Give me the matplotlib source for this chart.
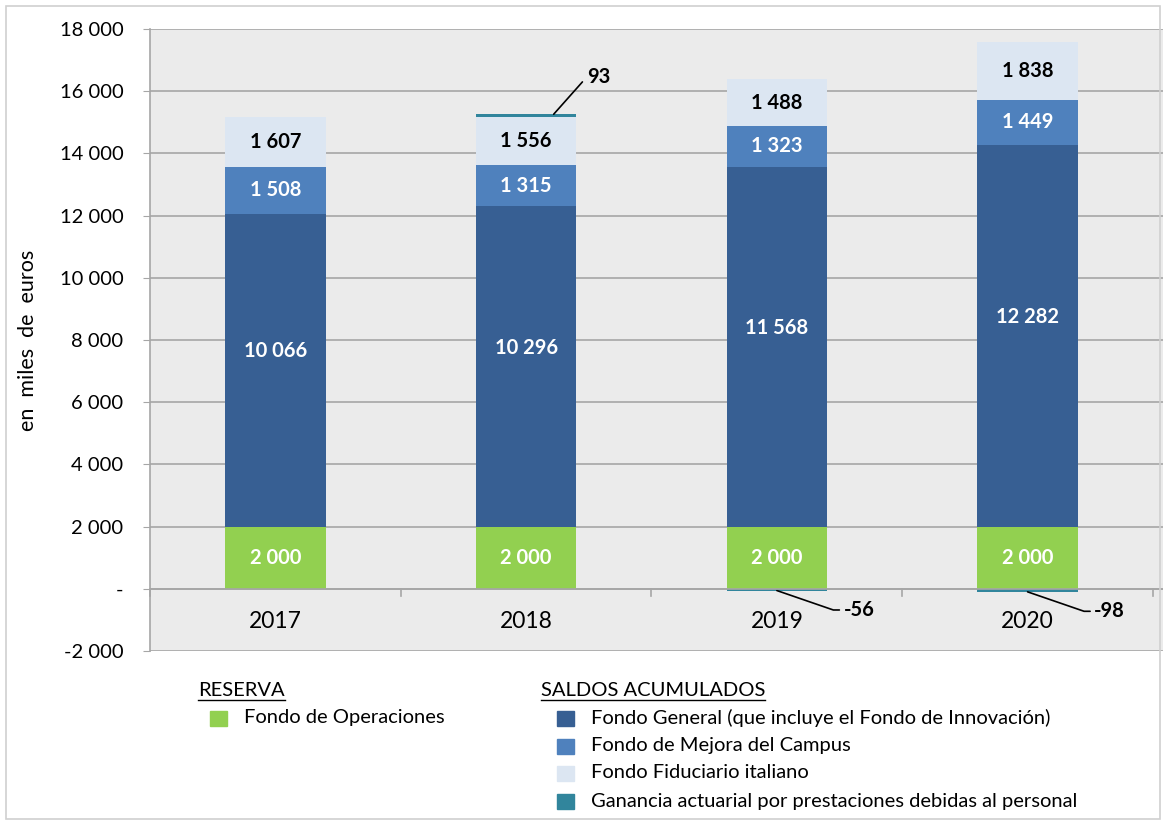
import matplotlib.pyplot as plt
import matplotlib.patches as mpatches
import numpy as np

plt.rcParams['font.family'] = ['Lato', 'DejaVu Sans']

years = ['2017', '2018', '2019', '2020']
operaciones = [2000, 2000, 2000, 2000]
general = [10066, 10296, 11568, 12282]
mejora = [1508, 1315, 1323, 1449]
fiduciario = [1607, 1556, 1488, 1838]
ganancia = [0, 93, -56, -98]

yticks = np.arange(-2000, 18001, 2000)

c_green = '#92D050'
c_dark = '#375F93'
c_mid = '#4F81BD'
c_light = '#DCE6F2'
c_teal = '#31859C'
grid_c = '#A6A6A6'

W, H = 1164, 823
fig = plt.figure(figsize=(W / 100, H / 100), dpi=100)
ax = fig.add_axes([150 / W, 1 - 651 / H, 1013 / W, 622 / H])
ax.set_facecolor('#EBEBEB')

x = np.arange(len(years))
bw = 0.4

def fmt(v):
    return f"{v:,}".replace(",", " ")

# (values, colour, label colour, label shift in data units)
series = [(operaciones, c_green, 'white', 0),
          (general, c_dark, 'white', 600),
          (mejora, c_mid, 'white', 0),
          (fiduciario, c_light, 'black', 0)]

bottom = np.zeros(len(years))
for vals, col, tcol, shift in series:
    vals = np.array(vals, dtype=float)
    ax.bar(x, vals, bw, bottom=bottom, color=col, zorder=3)
    for i, v in enumerate(vals):
        ax.text(x[i], bottom[i] + v / 2 + shift, fmt(int(v)), ha='center', va='center',
                color=tcol, fontsize=14.5, fontweight='bold', zorder=4)
    bottom += vals

# ganancia actuarial: positive on top of stack, negative below zero
gan = np.array(ganancia, dtype=float)
gbottom = np.where(gan >= 0, bottom, 0)
ax.bar(x, gan, bw, bottom=gbottom, color=c_teal, zorder=3)

for i, v in enumerate(ganancia):
    if v > 0:
        ax.annotate(fmt(v), xy=(x[i] + 0.11, gbottom[i] + v), xytext=(24, 27),
                    textcoords='offset points', ha='left', va='center',
                    fontsize=14.5, fontweight='bold',
                    arrowprops=dict(arrowstyle='-', color='black', lw=1.2,
                                    shrinkA=2, shrinkB=0, relpos=(0, 0.5)))
    elif v < 0:
        ax.annotate(fmt(v), xy=(x[i], v), xytext=(48, -14),
                    textcoords='offset points', ha='left', va='center',
                    fontsize=14.5, fontweight='bold',
                    arrowprops=dict(arrowstyle='-', color='black', lw=1.2,
                                    shrinkA=1, shrinkB=0, relpos=(0, 0.5),
                                    connectionstyle='angle,angleA=0,angleB=-19,rad=0'))

ax.set_xlim(-0.5, 3.54)
ax.set_ylim(-2000, 18000)
ax.set_yticks(yticks)
ax.set_yticklabels(['-' if t == 0 else fmt(int(t)) for t in yticks], fontsize=14.5)
ax.tick_params(axis='y', length=5, pad=14, color=grid_c)
ax.set_xticks([])
for t in yticks:
    ax.axhline(t, color=grid_c, lw=1.2, zorder=1)
ax.axhline(0, color=grid_c, lw=1.2, zorder=5)
for b in np.arange(-0.5, 4.0, 1.0):
    ax.plot([b, b], [0, -230], color=grid_c, lw=1.2, zorder=5, clip_on=False)
for i, yr in enumerate(years):
    ax.text(x[i], -1050, yr, ha='center', va='center', fontsize=16.5)

for s in ['top', 'right', 'bottom']:
    ax.spines[s].set_visible(False)
ax.spines['left'].set_color(grid_c)
ax.spines['left'].set_linewidth(1.2)

ax.set_ylabel('en  miles  de  euros', fontsize=15.5, labelpad=16)

# figure border
fig.patches.append(mpatches.Rectangle((6 / W, 4 / H), 1 - 10 / W, 1 - 10 / H,
                                      transform=fig.transFigure, fill=False,
                                      edgecolor='#D0D0D0', lw=1.2))

# legend
def fx(px):
    return px / W

def fy(py):
    return 1 - py / H

leg_fs = 14.5
titles = [('RESERVA', 198, 690), ('SALDOS ACUMULADOS', 541, 690)]
title_txt = []
for t, px, py in titles:
    title_txt.append(fig.text(fx(px), fy(py), t, ha='left', va='center', fontsize=leg_fs))

entries = [('Fondo de Operaciones', c_green, 210, 718),
           ('Fondo General (que incluye el Fondo de Innovación)', c_dark, 557, 718),
           ('Fondo de Mejora del Campus', c_mid, 557, 746),
           ('Fondo Fiduciario italiano', c_light, 557, 773),
           ('Ganancia actuarial por prestaciones debidas al personal', c_teal, 557, 801)]
for lab, col, px, py in entries:
    fig.patches.append(mpatches.Rectangle((fx(px), fy(py + 8)), 17 / W, 15 / H,
                                          transform=fig.transFigure, color=col))
    fig.text(fx(px + 34), fy(py), lab, ha='left', va='center', fontsize=leg_fs)

fig.canvas.draw()
r = fig.canvas.get_renderer()
for t in title_txt:
    bb = t.get_window_extent(r)
    yl = bb.y0 - 1
    fig.add_artist(plt.Line2D([bb.x0 / W, bb.x1 / W], [yl / H, yl / H],
                              transform=fig.transFigure, color='black', lw=1))

fig.savefig('out.png', dpi=100)
